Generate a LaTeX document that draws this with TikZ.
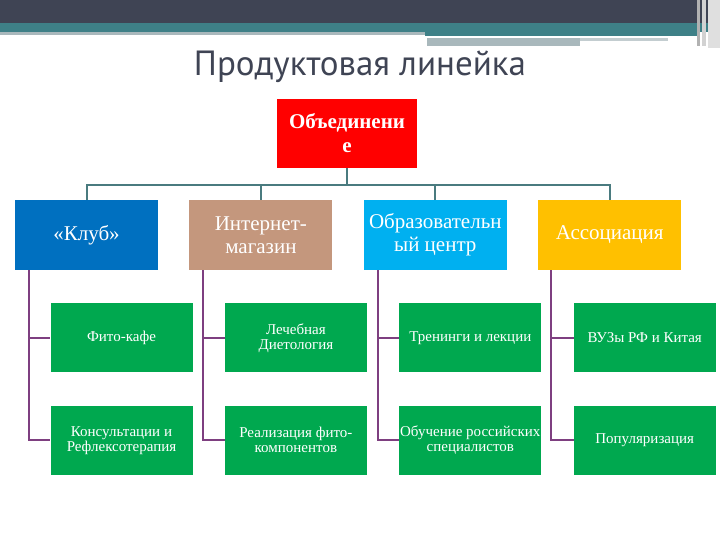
\documentclass[tikz,border=0pt]{standalone}
\usepackage{fontspec}
\setmainfont{Liberation Serif}
\newfontfamily\titlefont{PT Sans}
\usetikzlibrary{positioning,calc}
\definecolor{slate}{HTML}{3F4454}
\definecolor{bandteal}{HTML}{3E8087}
\definecolor{bandgray}{HTML}{A9B8BC}
\definecolor{rootred}{HTML}{FF0000}
\definecolor{clubblue}{HTML}{0070C0}
\definecolor{shoptan}{HTML}{C4977D}
\definecolor{educyan}{HTML}{00B0F0}
\definecolor{assocgold}{HTML}{FFC000}
\definecolor{leafgreen}{HTML}{00A84F}
\definecolor{trunkteal}{HTML}{4A7B7F}
\definecolor{branchplum}{HTML}{7E3F80}

\begin{document}
\begin{tikzpicture}[x=1pt,y=1pt,node distance=33pt and 31pt,every node/.style={align=center,text=white},head/.style={fill=#1,minimum width=143pt,minimum height=70pt,inner sep=1pt,font=\fontsize{21}{23}\selectfont},leaf/.style={fill=leafgreen,minimum width=142pt,minimum height=69pt,inner sep=1pt,font=\fontsize{15}{15}\selectfont},trunk/.style={draw=trunkteal,line width=2pt},branch/.style={draw=branchplum,line width=2pt}]
\useasboundingbox (0,0) rectangle (720,-540);
% top bands
\fill[slate] (0,0) rectangle (720,-23);
\fill[bandteal] (0,-23) rectangle (720,-32);
\fill[bandgray] (0,-32) rectangle (425,-35);
\fill[bandteal] (425,-32) rectangle (700,-36);
\fill[bandgray] (427,-38) rectangle (580,-46);
\fill[bandgray!70] (580,-38) rectangle (668,-41);
\fill[gray!60] (697,0) rectangle (700,-46);
\fill[gray!35] (702,0) rectangle (706,-46);
\fill[gray!25] (708,0) rectangle (720,-48);
\node[text=slate,font=\titlefont\fontsize{35}{35}\selectfont] (title) at (360,-67) {Продуктовая линейка};
% tree
\node[fill=rootred,minimum width=140pt,minimum height=69pt,inner sep=1pt,font=\bfseries\fontsize{21}{24}\selectfont] (root) at (347,-133.5) {Объединени\\е};
\node[head=clubblue] (club) at (86.5,-235) {«Клуб»};
\node[head=shoptan,right=of club] (shop) {Интернет-\\магазин};
\node[head=educyan,right=of shop] (edu) {Образовательн\\ый центр};
\node[head=assocgold,right=of edu] (assoc) {Ассоциация};
\node[leaf,below=of club,xshift=35pt] (cafe) {Фито-кафе};
\node[leaf,below=of cafe] (consult) {Консультации и\\Рефлексотерапия};
\node[leaf,below=of shop,xshift=35pt] (diet) {Лечебная\\Диетология};
\node[leaf,below=of diet] (sale) {Реализация фито-\\компонентов};
\node[leaf,below=of edu,xshift=35pt] (train) {Тренинги и лекции};
\node[leaf,below=of train] (teach) {Обучение российских\\специалистов};
\node[leaf,below=of assoc,xshift=35pt] (univ) {ВУЗы РФ и Китая};
\node[leaf,below=of univ] (promo) {Популяризация};
\draw[trunk] (root.south) -- ++(0,-17) -| (club.north);
\draw[trunk] (root.south) -- ++(0,-17) -| (shop.north);
\draw[trunk] (root.south) -- ++(0,-17) -| (edu.north);
\draw[trunk] (root.south) -- ++(0,-17) -| (assoc.north);
\draw[branch] ([xshift=14pt]club.south west) |- (cafe.west);
\draw[branch] ([xshift=14pt]club.south west) |- (consult.west);
\draw[branch] ([xshift=14pt]shop.south west) |- (diet.west);
\draw[branch] ([xshift=14pt]shop.south west) |- (sale.west);
\draw[branch] ([xshift=14pt]edu.south west) |- (train.west);
\draw[branch] ([xshift=14pt]edu.south west) |- (teach.west);
\draw[branch] ([xshift=13pt]assoc.south west) |- (univ.west);
\draw[branch] ([xshift=13pt]assoc.south west) |- (promo.west);
\end{tikzpicture}
\end{document}
